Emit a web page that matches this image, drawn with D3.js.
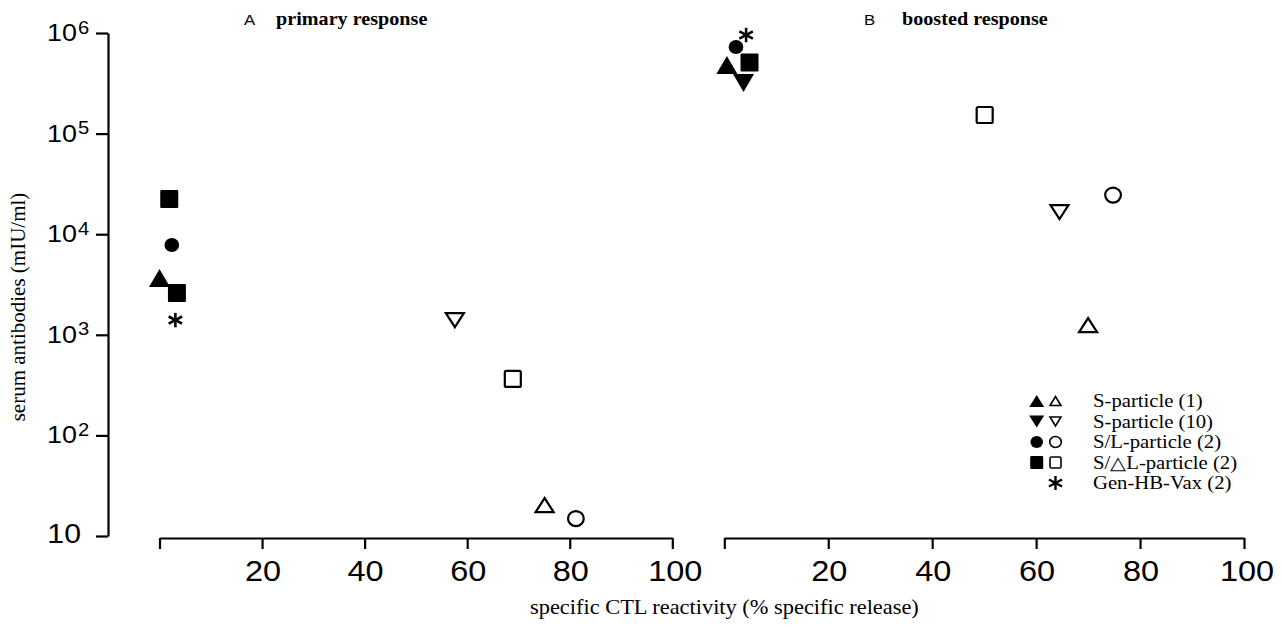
<!DOCTYPE html>
<html><head><meta charset="utf-8">
<script src="https://cdn.jsdelivr.net/npm/d3@7"></script>
<style>body{margin:0;background:#fff} svg{display:block}</style>
</head><body><svg id="c" width="1282" height="630"></svg>
<script>
// ---------- data ----------
const seriesNames = ["S-particle (1)", "S-particle (10)", "S/L-particle (2)", "S/\u25B3L-particle (2)", "Gen-HB-Vax (2)"];
const seriesShapes = ["triUp", "triDown", "circle", "square", "asterisk"];
const panelLetters = ["A", "B"];
const panelTitles = ["primary response", "boosted response"];
const xTicks = [0, 20, 40, 60, 80, 100];
const yTicks = [10, 100, 1000, 10000, 100000, 1000000];
const yTickBase = ["10", "10", "10", "10", "10", "10"];
const yTickExp = ["", "2", "3", "4", "5", "6"];
const yTitle = "serum antibodies (mIU/ml)";
const xTitle = "specific CTL reactivity (% specific release)";

// panel A: primary response
const primarySeries = [0, 2, 3, 3, 4, 1, 3, 0, 2];
const primaryFilled = [1, 1, 1, 1, 1, 0, 0, 0, 0];
const primaryCTL   = [0, 2.4, 1.9, 3.4, 3.1, 57.6, 68.9, 75.1, 81.2];
const primaryAb    = [3670, 7800, 22400, 2600, 1400, 1400, 364, 20.3, 14.9];

// panel B: boosted response
const boostedSeries = [2, 4, 0, 3, 1, 3, 1, 2, 0];
const boostedFilled = [1, 1, 1, 1, 1, 0, 0, 0, 0];
const boostedCTL    = [2.25, 4.2, 0.5, 4.85, 3.7, 50.1, 64.5, 74.8, 70];
const boostedAb     = [727000, 955000, 481000, 509000, 318000, 153000, 16600, 24500, 1250];

// legend: which styles appear per row
const legendFilled = [1, 1, 1, 1, 0];
const legendOpen   = [1, 1, 1, 1, 1];

// ---------- drawing ----------
const svg = d3.select("#c");
const SANS = "'Liberation Sans', Arial, Helvetica, sans-serif";
const SERIF = "'Liberation Serif', 'Times New Roman', Times, serif";
const SX = 1.12;

function txt(parent, x, y, s, o) {
  return parent.append("text")
    .attr("transform", `translate(${x},${y}) scale(${o.sx || SX},1)`)
    .attr("text-anchor", o.anchor || "start")
    .style("font-family", o.family || SANS)
    .style("font-size", o.size + "px")
    .style("font-weight", o.weight || "normal")
    .attr("fill", "#000")
    .text(s);
}

const y = d3.scaleLog().domain([10, 1e6]).range([536, 33]);
const xA = d3.scaleLinear().domain([0, 100]).range([159.5, 672.3]);
const xB = d3.scaleLinear().domain([0, 100]).range([724.3, 1244]);

function styleAxis(g) {
  g.selectAll("path, line").attr("stroke", "#000").attr("stroke-width", 2.2);
  g.selectAll("text").remove();
}

// y axis
const gy = svg.append("g").attr("transform", "translate(108,0)")
  .call(d3.axisLeft(y).tickValues(yTicks).tickSize(12).tickSizeOuter(0).tickFormat(""));
styleAxis(gy);
yTicks.forEach((v, i) => {
  const ty = y(v);
  if (yTickExp[i] === "") {
    txt(svg, 81, ty + 7, yTickBase[i], { size: 27, anchor: "end" });
  } else {
    txt(svg, 77, ty + 8, yTickBase[i], { size: 24, anchor: "end" });
    txt(svg, 78, ty + 0.5, yTickExp[i], { size: 18, anchor: "start" });
  }
});

// x axes
[xA, xB].forEach(xs => {
  const gx = svg.append("g").attr("transform", "translate(0,538)")
    .call(d3.axisBottom(xs).tickValues(xTicks).tickSize(11).tickSizeOuter(0).tickFormat(""));
  styleAxis(gx);
  xTicks.forEach(v => {
    if (v === 0) return;
    txt(svg, xs(v) + (v === 100 ? 3 : 1), 581, String(v), { size: 29, anchor: "middle" });
  });
});

// titles
svg.append("text").attr("transform", "translate(25,307) rotate(-90)")
  .attr("text-anchor", "middle").style("font-family", SERIF).style("font-size", "21px")
  .text(yTitle);
txt(svg, 530, 614, xTitle, { size: 20, family: SERIF });

txt(svg, 244, 25, panelLetters[0], { size: 15 });
txt(svg, 276, 25, panelTitles[0], { size: 18, family: SERIF, weight: "bold" });
txt(svg, 864, 25, panelLetters[1], { size: 15 });
txt(svg, 902, 25, panelTitles[1], { size: 18, family: SERIF, weight: "bold" });

// markers
function marker(g, shape, filled, cx, cy, k) {
  const fillc = filled ? "#000" : "#fff";
  const sw = filled ? 0 : k.sw;
  if (shape === "triUp" || shape === "triDown") {
    const w = filled ? k.tw : k.tw - 2, h = filled ? k.th : k.th - 2;
    const s = shape === "triUp" ? 1 : -1;
    const p = d3.path();
    p.moveTo(cx - w / 2, cy + s * h / 2);
    p.lineTo(cx, cy - s * h / 2);
    p.lineTo(cx + w / 2, cy + s * h / 2);
    p.closePath();
    g.append("path").attr("d", p.toString()).attr("fill", fillc)
      .attr("stroke", "#000").attr("stroke-width", sw).attr("stroke-linejoin", "miter");
  } else if (shape === "circle") {
    const r = filled ? k.cr : k.cr - 1;
    g.append("ellipse").attr("cx", cx).attr("cy", cy).attr("rx", r * 1.05).attr("ry", r)
      .attr("fill", fillc).attr("stroke", "#000").attr("stroke-width", sw);
  } else if (shape === "square") {
    const a = filled ? k.sq : k.sq - 2;
    g.append("rect").attr("x", cx - a / 2).attr("y", cy - a / 2).attr("width", a).attr("height", a)
      .attr("rx", filled ? 1 : 1.5)
      .attr("fill", fillc).attr("stroke", "#000").attr("stroke-width", sw);
  } else if (shape === "asterisk") {
    const L = k.ast;
    [90, 30, -30].forEach(a => {
      const r = a * Math.PI / 180;
      const dx = Math.cos(r) * L * 1.08, dy = Math.sin(r) * L;
      g.append("line").attr("x1", cx - dx).attr("y1", cy - dy).attr("x2", cx + dx).attr("y2", cy + dy)
        .attr("stroke", "#000").attr("stroke-width", k.asw);
    });
  }
}

const dataSize = { tw: 21, th: 18, cr: 7, sq: 18, ast: 7.2, asw: 2.6, sw: 2.2 };
const openSize = { tw: 20, th: 16, cr: 8.5, sq: 18, ast: 7.2, asw: 2.6, sw: 2.2 };
const legSize = { tw: 15, th: 12, cr: 6, sq: 13, ast: 7, asw: 2.4, sw: 1.6 };
const legOpenSize = { tw: 13, th: 11, cr: 6.5, sq: 13, ast: 7, asw: 2.4, sw: 1.6 };

const gm = svg.append("g");
function drawPanel(xs, ser, fil, ctl, ab) {
  ser.forEach((s, i) => {
    const f = fil[i] === 1;
    marker(gm, seriesShapes[s], f, xs(ctl[i]), y(ab[i]), f ? dataSize : openSize);
  });
}
drawPanel(xA, primarySeries, primaryFilled, primaryCTL, primaryAb);
drawPanel(xB, boostedSeries, boostedFilled, boostedCTL, boostedAb);

// legend
const gl = svg.append("g");
const legY0 = 401, legDy = 20.5;
seriesNames.forEach((name, i) => {
  const ly = legY0 + i * legDy;
  const shape = seriesShapes[i];
  if (shape === "asterisk") {
    marker(gl, shape, true, 1055.5, ly, legSize);
  } else {
    if (legendFilled[i]) marker(gl, shape, true, 1036.7, ly, legSize);
    if (legendOpen[i]) marker(gl, shape, false, 1055.5, ly, legOpenSize);
  }
  txt(gl, 1093, ly + 6, name, { size: 18, family: SERIF, sx: 1.15 });
});
</script>
</body></html>
